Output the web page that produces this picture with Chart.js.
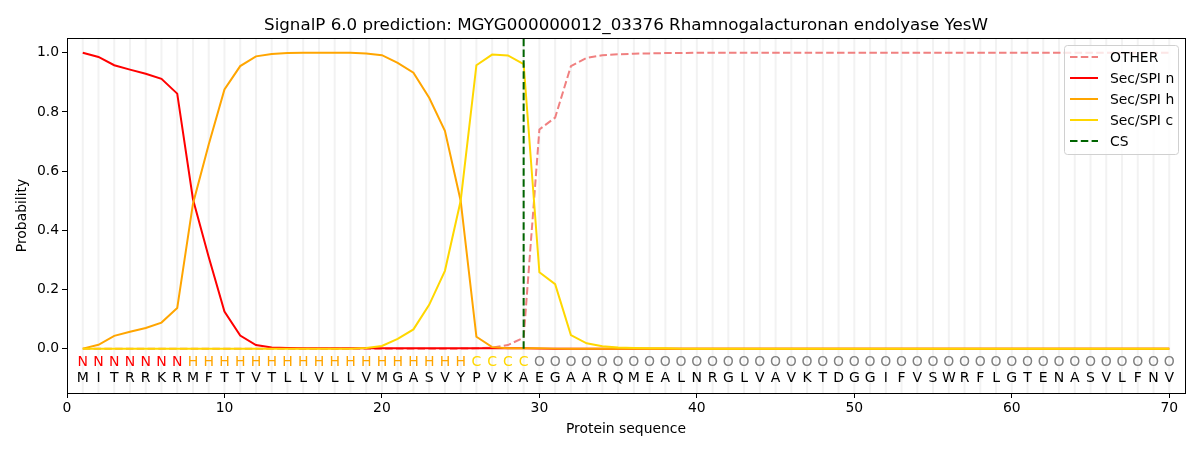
<!DOCTYPE html>
<html>
<head>
<meta charset="utf-8">
<script src="https://cdn.jsdelivr.net/npm/chart.js@4/dist/chart.umd.min.js"></script>
<style>
  body { margin: 0; background: #fff; }
  #wrap { width: 1200px; height: 450px; }
</style>
</head>
<body>
<div id="wrap"><canvas id="chart" width="1200" height="450"></canvas></div>
<script>
const titleText = "SignalP 6.0 prediction: MGYG000000012_03376 Rhamnogalacturonan endolyase YesW";
const xTitle = "Protein sequence";
const yTitle = "Probability";

const residues = "MITRRKRMFTTVTLLVLLVMGASVYPVKAEGAARQMEALNRGLVAVKTDGGIFVSWRFLGTENASVLFNV".split("");
const regions = "NNNNNNNHHHHHHHHHHHHHHHHHHCCCCOOOOOOOOOOOOOOOOOOOOOOOOOOOOOOOOOOOOOOOOO".split("");
const cleavageSite = 29;

const xTicks = [0, 10, 20, 30, 40, 50, 60, 70];
const yTicks = [0.0, 0.2, 0.4, 0.6, 0.8, 1.0];

const otherProb = [
  0, 0, 0, 0, 0, 0, 0, 0, 0, 0,
  0, 0, 0, 0, 0, 0, 0, 0, 0, 0,
  0, 0, 0, 0, 0, 0.001, 0.003, 0.012, 0.037, 0.741,
  0.781, 0.955, 0.983, 0.992, 0.995, 0.997, 0.998, 0.999, 0.999, 1.0,
  1.0, 1.0, 1.0, 1.0, 1.0, 1.0, 1.0, 1.0, 1.0, 1.0,
  1.0, 1.0, 1.0, 1.0, 1.0, 1.0, 1.0, 1.0, 1.0, 1.0,
  1.0, 1.0, 1.0, 1.0, 1.0, 1.0, 1.0, 1.0, 1.0, 1.0
];
const nProb = [
  1.0, 0.986, 0.958, 0.943, 0.929, 0.912, 0.862, 0.505, 0.31, 0.125,
  0.044, 0.012, 0.004, 0.002, 0.001, 0.001, 0.001, 0.001, 0.001, 0.001,
  0.001, 0.001, 0.001, 0.001, 0.001, 0.001, 0.001, 0.001, 0.001, 0,
  0, 0, 0, 0, 0, 0, 0, 0, 0, 0,
  0, 0, 0, 0, 0, 0, 0, 0, 0, 0,
  0, 0, 0, 0, 0, 0, 0, 0, 0, 0,
  0, 0, 0, 0, 0, 0, 0, 0, 0, 0
];
const hProb = [
  0.0, 0.013, 0.043, 0.057, 0.07, 0.088, 0.137, 0.49, 0.69, 0.876,
  0.955, 0.988, 0.996, 0.999, 1.0, 1.0, 1.0, 1.0, 0.998, 0.992,
  0.966, 0.933, 0.848, 0.736, 0.5, 0.04, 0.005, 0.001, 0.001, 0.001,
  0, 0, 0, 0, 0, 0, 0, 0, 0, 0,
  0, 0, 0, 0, 0, 0, 0, 0, 0, 0,
  0, 0, 0, 0, 0, 0, 0, 0, 0, 0,
  0, 0, 0, 0, 0, 0, 0, 0, 0, 0
];
const cProb = [
  0, 0, 0, 0, 0, 0, 0, 0, 0, 0,
  0, 0, 0, 0, 0, 0, 0, 0, 0.002, 0.009,
  0.033, 0.065, 0.148, 0.263, 0.5, 0.958, 0.994, 0.991, 0.962, 0.258,
  0.218, 0.046, 0.018, 0.008, 0.004, 0.002, 0.001, 0.001, 0, 0,
  0, 0, 0, 0, 0, 0, 0, 0, 0, 0,
  0, 0, 0, 0, 0, 0, 0, 0, 0, 0,
  0, 0, 0, 0, 0, 0, 0, 0, 0, 0
];

const regionColors = { N: "#ff0000", H: "#ffa500", C: "#ffd700", O: "#808080" };
const FONT = "'DejaVu Sans', sans-serif";

const positions = residues.map((r, i) => i + 1);
const toPoints = (arr) => arr.map((v, i) => ({ x: positions[i], y: v }));

// light vertical line at every residue, letters, frame, titles, legend
const decorations = {
  id: "decorations",
  beforeDatasetsDraw(chart) {
    const { ctx, chartArea, scales } = chart;
    ctx.save();
    ctx.strokeStyle = "#f2f2f2";
    ctx.lineWidth = 2;
    positions.forEach((p) => {
      const x = scales.x.getPixelForValue(p);
      ctx.beginPath();
      ctx.moveTo(x, chartArea.top);
      ctx.lineTo(x, chartArea.bottom);
      ctx.stroke();
    });
    ctx.restore();
  },
  afterDatasetsDraw(chart) {
    const { ctx, chartArea, scales } = chart;
    ctx.save();
    ctx.font = "14px " + FONT;
    ctx.textAlign = "center";
    ctx.textBaseline = "middle";
    residues.forEach((r, i) => {
      const x = scales.x.getPixelForValue(positions[i]);
      ctx.fillStyle = regionColors[regions[i]];
      ctx.fillText(regions[i], x, scales.y.getPixelForValue(-0.047));
      ctx.fillStyle = "#000";
      ctx.fillText(r, x, scales.y.getPixelForValue(-0.102));
    });

    // frame
    ctx.strokeStyle = "#000";
    ctx.lineWidth = 1;
    ctx.strokeRect(chartArea.left + 0.5, chartArea.top + 0.5,
      chartArea.right - chartArea.left, chartArea.bottom - chartArea.top);

    // titles
    const cx = (chartArea.left + chartArea.right) / 2;
    const cy = (chartArea.top + chartArea.bottom) / 2;
    ctx.fillStyle = "#000";
    ctx.font = "16.7px " + FONT;
    ctx.textBaseline = "alphabetic";
    ctx.fillText(titleText, cx, chartArea.top - 8);
    ctx.font = "13.9px " + FONT;
    ctx.textBaseline = "middle";
    ctx.fillText(xTitle, cx, chartArea.bottom + 36);
    ctx.save();
    ctx.translate(22, cy);
    ctx.rotate(-Math.PI / 2);
    ctx.fillText(yTitle, 0, 0);
    ctx.restore();

    // legend
    const items = chart.data.datasets;
    const bx = chartArea.right - 121, by = chartArea.top + 7, bw = 114, bh = 109;
    ctx.fillStyle = "rgba(255,255,255,0.8)";
    ctx.strokeStyle = "#d0d0d0";
    ctx.lineWidth = 1;
    ctx.beginPath();
    ctx.roundRect(bx + 0.5, by + 0.5, bw, bh, 3);
    ctx.fill();
    ctx.stroke();
    ctx.font = "13.9px " + FONT;
    ctx.textAlign = "left";
    ctx.textBaseline = "middle";
    items.forEach((d, i) => {
      const y = by + 12 + i * 21;
      ctx.strokeStyle = d.borderColor;
      ctx.lineWidth = 2;
      ctx.setLineDash(d.borderDash || []);
      ctx.beginPath();
      ctx.moveTo(bx + 6, y);
      ctx.lineTo(bx + 34, y);
      ctx.stroke();
      ctx.setLineDash([]);
      ctx.fillStyle = "#000";
      ctx.fillText(d.label, bx + 46, y + 1);
    });
    ctx.restore();
  }
};

new Chart(document.getElementById("chart"), {
  type: "line",
  data: {
    datasets: [
      { label: "OTHER", data: toPoints(otherProb), borderColor: "#f08080", borderDash: [7.5, 3.3], order: 5 },
      { label: "Sec/SPI n", data: toPoints(nProb), borderColor: "#ff0000", order: 4 },
      { label: "Sec/SPI h", data: toPoints(hProb), borderColor: "#ffa500", order: 3 },
      { label: "Sec/SPI c", data: toPoints(cProb), borderColor: "#ffd700", order: 2 },
      {
        label: "CS",
        data: [{ x: cleavageSite, y: 0 }, { x: cleavageSite, y: 1.05 }],
        borderColor: "#006400",
        borderDash: [7.5, 3.3],
        order: 1
      }
    ]
  },
  options: {
    responsive: false,
    animation: false,
    layout: { padding: { top: 38, right: 15, left: 0, bottom: 0 } },
    elements: {
      line: { borderWidth: 2, tension: 0, fill: false },
      point: { radius: 0, hoverRadius: 0 }
    },
    plugins: {
      legend: { display: false },
      tooltip: { enabled: false }
    },
    scales: {
      x: {
        type: "linear",
        min: 0,
        max: 71,
        afterBuildTicks: (s) => { s.ticks = xTicks.map((v) => ({ value: v })); },
        afterFit: (s) => { s.height = 57; },
        grid: { display: true, drawOnChartArea: false, drawTicks: true, tickLength: 5, color: "#000" },
        border: { display: false },
        ticks: { color: "#000", font: { family: FONT, size: 13.9 }, padding: 2, maxRotation: 0 }
      },
      y: {
        min: -0.15,
        max: 1.05,
        afterBuildTicks: (s) => { s.ticks = yTicks.map((v) => ({ value: v })); },
        afterFit: (s) => { s.width = 67; },
        grid: { display: true, drawOnChartArea: false, drawTicks: true, tickLength: 5, color: "#000" },
        border: { display: false },
        ticks: { color: "#000", font: { family: FONT, size: 13.9 }, padding: 3, callback: (v) => v.toFixed(1) }
      }
    }
  },
  plugins: [decorations]
});
</script>
</body>
</html>
